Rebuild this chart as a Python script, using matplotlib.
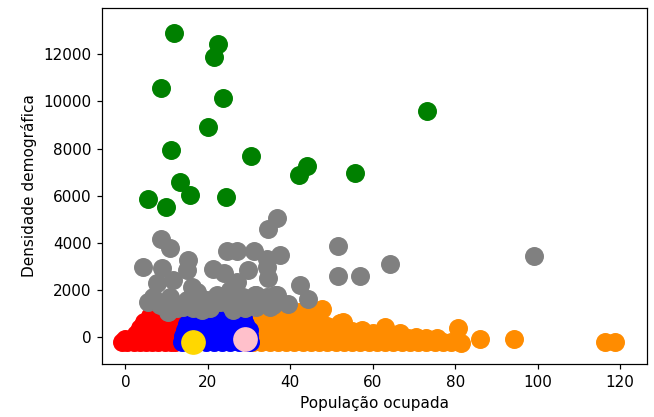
import matplotlib
matplotlib.use("Agg")
import matplotlib.pyplot as plt

# pontos por grupo
red_x = [-0.8, 0.5, 2, 3.5, 5, 6.5, 8, 9.5, 11, 12,
         0, 1.5, 3, 4.5, 6, 7.5, 9, 10.5, 12,
         2.5, 4, 5.5, 7, 8.5, 10, 11.5,
         3.5, 5, 6.5, 8, 9.5, 11,
         4.5, 6, 7.5, 9, 10.5, 12,
         6, 7.5, 9, 10.5]
red_y = [-200, -200, -200, -200, -200, -200, -200, -200, -200, -200,
         -60, -60, -60, -60, -60, -60, -60, -60, -60,
         150, 150, 150, 150, 150, 150, 150,
         400, 400, 400, 400, 400, 400,
         650, 650, 650, 650, 650, 650,
         920, 950, 900, 850]

blue_x = [13.7, 15.5, 17.5, 19.5, 21.5, 23.5, 25.5, 27.5, 29.5, 30.2,
          14, 16, 18, 20, 22, 24, 26, 28, 30,
          14.5, 16.5, 18.5, 20.5, 22.5, 24.5, 26.5, 28.5, 30,
          15, 17, 19, 21, 23, 25, 27, 29,
          16, 18.5, 21, 23.5, 26, 28.5]
blue_y = [-200, -200, -200, -200, -200, -200, -200, -200, -200, -200,
          50, 50, 50, 50, 50, 50, 50, 50, 50,
          300, 300, 300, 300, 300, 300, 300, 300, 300,
          550, 550, 550, 550, 550, 550, 550, 550,
          820, 850, 880, 860, 850, 830]

orange_x = [31, 33, 35, 37, 39, 41, 43, 45, 47, 49, 51, 53, 55, 57, 59, 61,
            63, 65, 67, 69, 71, 73, 75, 77, 79, 81.5, 86, 94.3, 116.3, 118.7,
            31, 33.5, 36, 38.5, 41, 43.5, 46, 48.5, 51, 53.5, 56, 58.5, 61,
            63.5, 66, 68.5, 70.6, 73, 75.5,
            31, 33, 35, 37, 39, 41, 43, 45, 47, 49, 51, 53, 55, 57.5, 60, 66.6,
            31, 33, 35, 37, 39, 41, 43, 45, 47, 49, 52, 63, 80.7,
            31, 33, 35, 37, 39, 41, 43, 45, 47,
            32, 34, 36, 38, 40, 42, 44, 47.6, 52.8]
orange_y = [-190, -190, -190, -190, -190, -190, -190, -190, -190, -190,
            -190, -190, -190, -190, -190, -190, -190, -190, -190, -190,
            -190, -190, -190, -190, -190, -230, -90, -90, -190, -190,
            -40, -40, -40, -40, -40, -40, -40, -40, -40, -40, -40, -40, -40,
            -40, -40, -40, 30, -40, -40,
            250, 250, 250, 250, 250, 250, 250, 250, 250, 250, 250, 250, 250,
            300, 200, 200,
            500, 500, 500, 500, 500, 500, 500, 500, 500, 500, 590, 450, 380,
            750, 750, 750, 750, 750, 750, 750, 750, 750,
            980, 1000, 990, 1050, 1090, 1080, 1100, 1200, 660]

gray_x = [36.7, 34.5, 8.7, 10.8, 24.7, 27.0, 31.2, 37.5, 15.3, 51.6, 64.3,
          99.2, 4.4, 9.0, 15.0, 21.3, 23.9, 29.8, 34.3, 34.3, 34.5, 51.6,
          56.8, 42.3, 44.4, 7.6, 11.6, 16.1, 27.0, 25.4, 6.8, 10.8, 14.9,
          17.3, 19.7, 22.2, 23.0, 25.4, 28.6, 31.8, 34.3, 36.7, 12.5, 8.4,
          20.5, 26.2, 31.8, 35.9, 10.4, 31.4, 36.3, 35.1, 18.5, 14.0, 29.0,
          39.5, 16.5, 21.0, 5.5]
gray_y = [5050, 4600, 4180, 3800, 3680, 3680, 3670, 3490, 3280, 3870, 3090,
          3440, 2980, 2950, 2850, 2910, 2710, 2870, 3000, 3300, 2500, 2620,
          2620, 2200, 1620, 2290, 2430, 2150, 2360, 2000, 1720, 1720, 1580,
          1930, 1580, 1790, 1510, 1370, 1720, 1790, 1720, 1790, 1230, 1370,
          1230, 1160, 1300, 1370, 1090, 1790, 1790, 1300, 1150, 1300, 1250,
          1400, 1250, 1400, 1500]

green_x = [11.8, 22.5, 21.6, 8.7, 23.7, 73.1, 20.0, 11.0, 30.4, 44.1, 42.2,
           55.7, 13.3, 15.7, 5.6, 24.4, 9.8]
green_y = [12920, 12450, 11870, 10560, 10150, 9600, 8920, 7930, 7670, 7260,
           6900, 6980, 6570, 6030, 5880, 5960, 5540]

yellow_x = [16.5]
yellow_y = [-190]
pink_x = [29.0]
pink_y = [-50]

fig = plt.figure(figsize=(654 / 110, 417 / 110), dpi=110)
ax = fig.add_axes([0.156, 0.1271, 0.8333, 0.8537])

ax.scatter(red_x, red_y, s=130, c="red")
ax.scatter(orange_x, orange_y, s=130, c="darkorange")
ax.scatter(blue_x, blue_y, s=130, c="blue")
ax.scatter(gray_x, gray_y, s=130, c="gray")
ax.scatter(green_x, green_y, s=130, c="green")
ax.scatter(yellow_x, yellow_y, s=230, c="gold")
ax.scatter(pink_x, pink_y, s=230, c="pink")

ax.set_xlim(-5.65, 126.5)
ax.set_ylim(-1130, 13960)
ax.set_xlabel("População ocupada")
ax.set_ylabel("Densidade demográfica")

fig.savefig("out.png", dpi=110)
